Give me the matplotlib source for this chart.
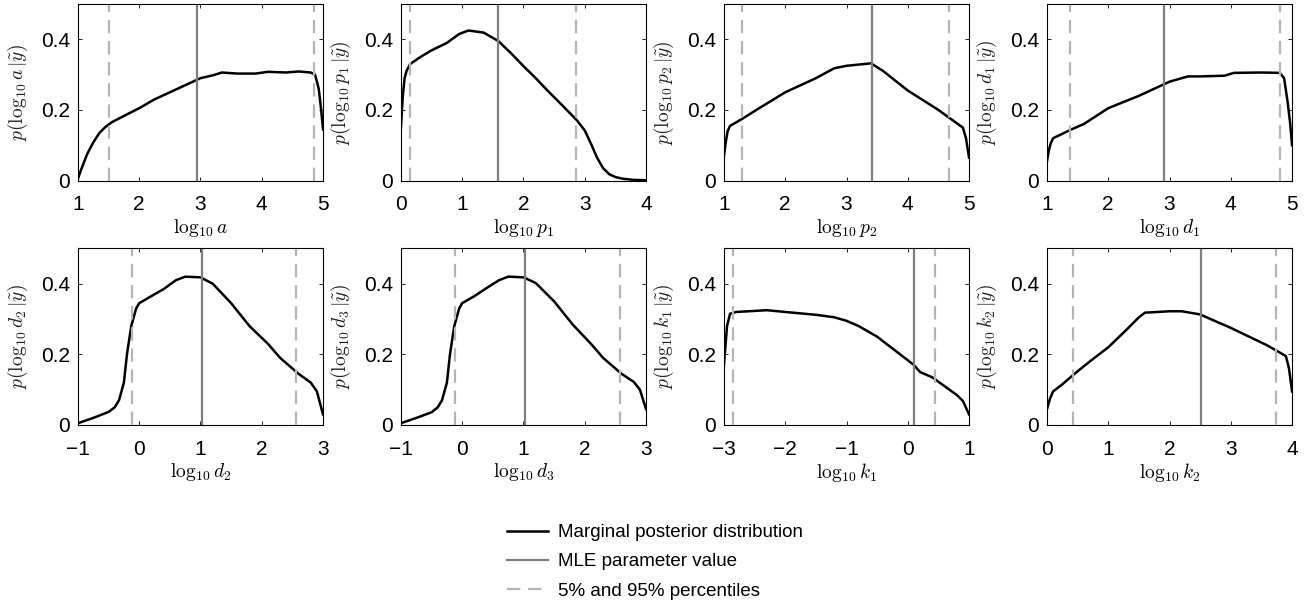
import numpy as np
import matplotlib
matplotlib.use("Agg")
import matplotlib.pyplot as plt

plt.rcParams['font.family'] = ['Liberation Sans', 'DejaVu Sans']
plt.rcParams['mathtext.fontset'] = 'cm'

# parameter names (mathtext)
params = ['a', 'p_1', 'p_2', 'd_1', 'd_2', 'd_3', 'k_1', 'k_2']

# marginal posterior curves
x_a = [1.0, 1.05, 1.15, 1.25, 1.35, 1.45, 1.55, 1.75, 2.0, 2.25, 2.5, 2.75, 3.0, 3.2, 3.35, 3.6, 3.9, 4.1, 4.4, 4.6, 4.8, 4.87, 4.93, 4.97, 5.0]
y_a = [0.005, 0.03, 0.075, 0.108, 0.135, 0.152, 0.165, 0.183, 0.205, 0.23, 0.25, 0.27, 0.29, 0.298, 0.306, 0.303, 0.303, 0.308, 0.306, 0.309, 0.306, 0.3, 0.26, 0.2, 0.145]

x_p1 = [0.0, 0.03, 0.06, 0.09, 0.15, 0.3, 0.48, 0.75, 0.95, 1.1, 1.35, 1.59, 1.8, 2.0, 2.2, 2.38, 2.65, 2.87, 3.0, 3.1, 3.2, 3.3, 3.4, 3.5, 3.63, 3.8, 4.0]
y_p1 = [0.15, 0.24, 0.29, 0.31, 0.33, 0.348, 0.367, 0.39, 0.415, 0.425, 0.419, 0.395, 0.36, 0.324, 0.29, 0.257, 0.21, 0.171, 0.142, 0.105, 0.065, 0.035, 0.018, 0.01, 0.005, 0.002, 0.001]

x_p2 = [1.0, 1.03, 1.06, 1.1, 1.3, 1.5, 2.0, 2.5, 2.8, 3.0, 3.4, 3.6, 4.0, 4.5, 4.7, 4.9, 4.95, 5.0]
y_p2 = [0.07, 0.11, 0.14, 0.155, 0.175, 0.197, 0.25, 0.29, 0.318, 0.325, 0.332, 0.31, 0.255, 0.2, 0.175, 0.15, 0.12, 0.065]

x_d1 = [1.0, 1.03, 1.06, 1.1, 1.4, 1.6, 2.0, 2.5, 2.9, 3.0, 3.3, 3.5, 3.9, 4.05, 4.5, 4.8, 4.87, 4.93, 4.97, 5.0]
y_d1 = [0.055, 0.085, 0.105, 0.12, 0.145, 0.16, 0.205, 0.24, 0.272, 0.28, 0.295, 0.295, 0.297, 0.305, 0.306, 0.305, 0.29, 0.22, 0.16, 0.1]

x_d2 = [-1.0, -0.75, -0.5, -0.4, -0.33, -0.25, -0.2, -0.13, -0.05, 0.0, 0.2, 0.4, 0.6, 0.75, 1.0, 1.2, 1.5, 1.8, 2.1, 2.3, 2.6, 2.8, 2.9, 3.0]
y_d2 = [0.005, 0.02, 0.037, 0.05, 0.07, 0.12, 0.2, 0.28, 0.33, 0.345, 0.365, 0.385, 0.41, 0.42, 0.418, 0.4, 0.345, 0.28, 0.23, 0.19, 0.145, 0.12, 0.095, 0.03]

x_d3 = [-1.0, -0.75, -0.5, -0.4, -0.33, -0.25, -0.2, -0.13, -0.05, 0.0, 0.2, 0.4, 0.6, 0.75, 1.0, 1.2, 1.5, 1.8, 2.1, 2.3, 2.6, 2.8, 2.9, 3.0]
y_d3 = [0.005, 0.02, 0.036, 0.05, 0.07, 0.12, 0.2, 0.28, 0.33, 0.345, 0.365, 0.388, 0.41, 0.42, 0.418, 0.402, 0.35, 0.285, 0.23, 0.19, 0.145, 0.122, 0.1, 0.045]

x_k1 = [-3.0, -2.95, -2.9, -2.8, -2.5, -2.3, -2.0, -1.5, -1.2, -1.0, -0.8, -0.5, -0.2, 0.1, 0.2, 0.4, 0.6, 0.8, 0.9, 1.0]
y_k1 = [0.17, 0.28, 0.315, 0.32, 0.323, 0.325, 0.32, 0.312, 0.305, 0.295, 0.28, 0.25, 0.21, 0.17, 0.15, 0.135, 0.11, 0.085, 0.068, 0.03]

x_k2 = [0.0, 0.05, 0.1, 0.25, 0.45, 0.7, 1.0, 1.3, 1.5, 1.6, 1.8, 2.0, 2.2, 2.5, 2.8, 3.0, 3.3, 3.6, 3.8, 3.9, 3.95, 4.0]
y_k2 = [0.045, 0.075, 0.095, 0.115, 0.145, 0.18, 0.22, 0.27, 0.305, 0.318, 0.32, 0.322, 0.322, 0.313, 0.29, 0.275, 0.25, 0.225, 0.205, 0.195, 0.16, 0.095]

curves_x = [x_a, x_p1, x_p2, x_d1, x_d2, x_d3, x_k1, x_k2]
curves_y = [y_a, y_p1, y_p2, y_d1, y_d2, y_d3, y_k1, y_k2]

# MLE value and 5% / 95% percentiles
mle = [2.95, 1.59, 3.42, 2.91, 1.02, 1.02, 0.10, 2.52]
pct_lo = [1.5, 0.15, 1.3, 1.37, -0.12, -0.12, -2.85, 0.43]
pct_hi = [4.85, 2.85, 4.67, 4.8, 2.56, 2.58, 0.44, 3.74]

xlims = [(1, 5), (0, 4), (1, 5), (1, 5), (-1, 3), (-1, 3), (-3, 1), (0, 4)]

fig, axes = plt.subplots(2, 4, figsize=(13.1, 6.06), dpi=100)
fig.subplots_adjust(left=0.0595, right=0.9863, top=0.9934, bottom=0.2987,
                    wspace=0.318, hspace=0.384)

for i, ax in enumerate(axes.flat):
    h1, = ax.plot(curves_x[i], curves_y[i], color='black', lw=1.8)
    h2 = ax.axvline(mle[i], color='#7f7f7f', lw=1.6)
    h3 = ax.axvline(pct_lo[i], color='#b5b5b5', lw=1.6, dashes=(6, 3.5))
    ax.axvline(pct_hi[i], color='#b5b5b5', lw=1.6, dashes=(6, 3.5))

    lo, hi = xlims[i]
    ax.set_xlim(lo, hi)
    ax.set_ylim(0, 0.5)
    ax.set_xticks(np.arange(lo, hi + 1))
    ax.set_xticklabels(['\u2212%d' % -t if t < 0 else '%d' % t for t in range(lo, hi + 1)])
    ax.set_yticks([0, 0.2, 0.4])
    ax.set_yticklabels(['0', '0.2', '0.4'])

    ax.tick_params(direction='in', top=True, right=True, length=3, width=0.6,
                   labelsize=15)
    ax.tick_params(axis='x', pad=10.5)
    ax.tick_params(axis='y', pad=5.5)
    for s in ax.spines.values():
        s.set_linewidth(0.8)

    ax.set_xlabel(r'$\log_{10}%s$' % params[i], fontsize=14, labelpad=2)
    ax.set_ylabel(r'$p(\log_{10}%s\,|\tilde{y})$' % params[i], fontsize=14,
                  labelpad=8, color='#222222')

fig.legend([h1, h2, h3],
           ['Marginal posterior distribution', 'MLE parameter value',
            '5% and 95% percentiles'],
           loc='upper left', bbox_to_anchor=(0.387, 0.135), frameon=False,
           fontsize=13.5, borderpad=0, borderaxespad=0, handlelength=2.2,
           handletextpad=0.53, labelspacing=0.64)

plt.savefig('out.png')
